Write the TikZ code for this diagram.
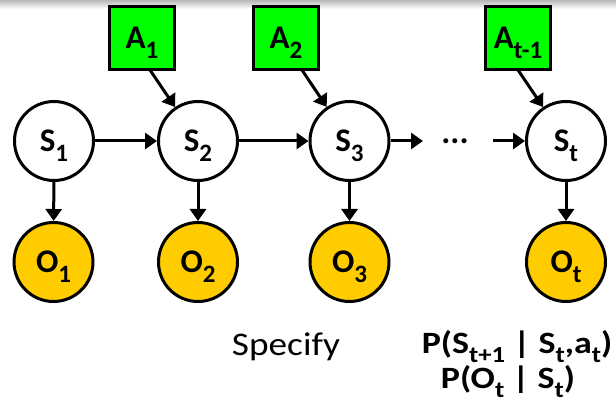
\documentclass[tikz,border=0pt]{standalone}
\usepackage{fontspec}
\setmainfont{Carlito}
\usetikzlibrary{arrows.meta,calc}
\definecolor{agreen}{HTML}{00FF00}
\definecolor{ogold}{HTML}{FFCC00}
\newcommand{\sbs}[1]{\smash{\raisebox{-10pt}{\fontsize{25}{25}\selectfont #1}}}
\newcommand{\ssbs}[1]{\smash{\raisebox{-9pt}{\fontsize{23}{23}\selectfont #1}}}
\begin{document}
\begin{tikzpicture}[x=1pt,y=-1pt,
  lbl/.style={font=\fontsize{33}{33}\selectfont\bfseries},
  snode/.style={circle,draw=black,line width=3pt,fill=white,minimum size=79pt,inner sep=0pt,lbl},
  onode/.style={circle,draw=black,line width=3pt,fill=ogold,minimum size=79pt,inner sep=0pt,lbl},
  anode/.style={rectangle,draw=black,line width=3pt,fill=agreen,minimum width=65pt,minimum height=63pt,inner sep=0pt,lbl},
  arr/.style={line width=3pt,-{Triangle[length=12pt,width=16pt]}},
  btxt/.style={font=\fontsize{31}{31}\selectfont\bfseries,anchor=base,inner sep=0pt}
]
\useasboundingbox (0,0) rectangle (616,414);
\fill[white] (0,0) rectangle (616,414);
\shade[top color=black!28,bottom color=white] (0,0) rectangle (616,9);

\node[snode] (S1) at (54,141) {\raisebox{-2pt}{S\sbs{1}}};
\node[snode] (S2) at (198,141) {\raisebox{-2pt}{S\sbs{2}}};
\node[snode] (S3) at (349.5,141) {\raisebox{-2pt}{S\sbs{3}}};
\node[snode] (St) at (566,141) {\raisebox{-2pt}{S\sbs{t}}};

\node[onode] (O1) at (53.5,262) {\raisebox{-2pt}{O\sbs{1}}};
\node[onode] (O2) at (198,262) {\raisebox{-2pt}{O\sbs{2}}};
\node[onode] (O3) at (349.5,262) {\raisebox{-2pt}{O\sbs{3}}};
\node[onode] (Ot) at (566,262) {\raisebox{-2pt}{O\sbs{t}}};

\node[anode] (A1) at (142,38) {\raisebox{-1pt}{A\sbs{1}}};
\node[anode] (A2) at (286,38) {\raisebox{-1pt}{A\sbs{2}}};
\node[anode] (At) at (518,38) {\raisebox{-1pt}{A\sbs{t-1}}};

\node[font=\fontsize{34}{34}\selectfont\bfseries] (dots) at (455,141) {...};

\coordinate (a1s) at (150,70);
\coordinate (a2s) at (302,70);
\coordinate (ats) at (518,70);
\coordinate (s3e) at (423,141);
\coordinate (ste) at (493,141);

\draw[arr] (S1) -- (S2);
\draw[arr] (S2) -- (S3);
\draw[arr] (S3) -- (s3e);
\draw[arr] (ste) -- (St);

\draw[arr] (a1s) -- (S2);
\draw[arr] (a2s) -- (S3);
\draw[arr] (ats) -- (St);

\draw[arr] (S1) -- (O1);
\draw[arr] (S2) -- (O2);
\draw[arr] (S3) -- (O3);
\draw[arr] (St) -- (Ot);

\node[font=\fontsize{33}{33}\selectfont,anchor=base,inner sep=0pt] (spec) at (286,355) {\scalebox{1.13}[1]{Specify}};
\node[btxt] (p1) at (517,353) {\scalebox{1.16}[1]{P(S\ssbs{t+1} | S\ssbs{t},a\ssbs{t})}};
\node[btxt] (p2) at (508,388) {\scalebox{1.16}[1]{P(O\ssbs{t} | S\ssbs{t})}};
\end{tikzpicture}
\end{document}
